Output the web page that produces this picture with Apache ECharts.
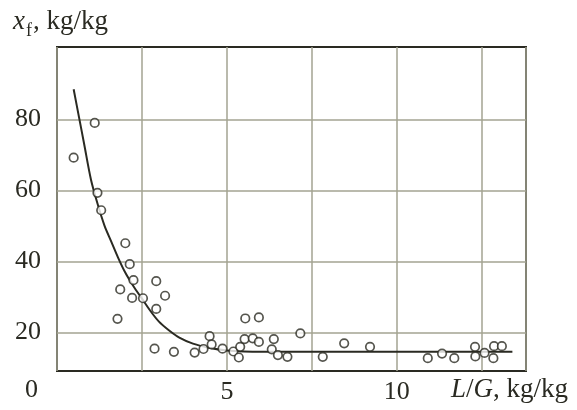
<!DOCTYPE html>
<html>
<head>
<meta charset="utf-8">
<script src="https://cdn.jsdelivr.net/npm/echarts@6/dist/echarts.min.js"></script>
<style>
html,body{margin:0;padding:0;background:#fff;}
#chart{width:577px;height:410px;}
</style>
</head>
<body>
<div id="chart"></div>
<script>
// Data
var pointsLG = [0.49,1.11,1.19,1.30,2.01,2.14,2.25,1.86,2.21,2.53,2.92,3.18,2.92,1.78,2.87,3.44,4.05,4.31,4.49,4.55,4.87,5.19,5.35,5.39,5.52,5.54,5.76,5.94,5.94,6.32,6.38,6.50,6.78,7.16,7.82,8.45,9.21,10.91,11.33,11.69,12.30,12.31,12.58,12.84,12.86,13.09];
var pointsXf = [69.2,79.0,59.3,54.4,45.1,39.2,34.7,32.1,29.7,29.6,34.4,30.3,26.6,23.8,15.4,14.5,14.3,15.3,18.9,16.6,15.4,14.6,12.9,15.9,18.1,23.9,18.3,24.2,17.3,15.2,18.1,13.6,13.1,19.7,13.1,16.9,15.9,12.7,14.0,12.7,15.9,13.2,14.2,12.7,16.1,16.1];
var curveLG = [0.49,0.65,0.8,1.0,1.2,1.4,1.6,1.8,2.0,2.25,2.5,2.75,3.0,3.3,3.6,4.0,4.5,5.0,5.5,6.0,13.4];
var curveXf = [88.5,80.5,73.0,63.0,56.0,50.0,45.5,41.0,37.0,33.0,29.5,26.0,23.0,20.5,18.5,16.8,15.6,14.9,14.6,14.5,14.5];
var yTicks = [20,40,60,80];
var xLabels = [5,10];

var font = '"Liberation Serif", "DejaVu Serif", serif';
var ink = '#2a2a22';
var gridCol = '#a3a392';

var scatterData = pointsLG.map(function(v,i){return [v, pointsXf[i]];});
var curveData = curveLG.map(function(v,i){return [v, curveXf[i]];});

var chart = echarts.init(document.getElementById('chart'), null, {renderer:'canvas'});
chart.setOption({
  backgroundColor:'#fff',
  animation:false,
  grid:{left:57,right:51,top:47,bottom:39,show:true,borderColor:ink,borderWidth:2,backgroundColor:'transparent'},
  xAxis:{
    type:'value',min:0,max:13.8,interval:2.5,
    axisLine:{show:false},
    axisTick:{show:false},
    splitLine:{show:true,lineStyle:{color:gridCol,width:1.5}},
    axisLabel:{
      color:ink,fontFamily:font,fontSize:26,margin:8,
      showMinLabel:false,showMaxLabel:false,
      formatter:function(v){return xLabels.indexOf(v)>=0 ? String(v) : '';}
    }
  },
  yAxis:{
    type:'value',min:9.1,max:100.4,
    axisLine:{show:false},
    axisTick:{show:false,customValues:yTicks},
    splitLine:{show:true,lineStyle:{color:gridCol,width:1.5}},
    axisLabel:{color:ink,fontFamily:font,fontSize:26,margin:16,customValues:yTicks}
  },
  graphic:[
    {type:'text',left:13,top:8,style:{
      rich:{
        i:{fontFamily:font,fontSize:27,fontStyle:'italic',fill:ink},
        s:{fontFamily:font,fontSize:18,fill:ink,padding:[20,1,0,1]},
        n:{fontFamily:font,fontSize:27,fill:ink}
      },
      text:'{i|x}{s|f}{n|, kg/kg}'
    }},
    {type:'text',left:25,top:377,style:{text:'0',fontFamily:font,fontSize:26,fill:ink}},
    {type:'text',right:9,top:376,style:{
      rich:{
        i:{fontFamily:font,fontSize:27,fontStyle:'italic',fill:ink},
        n:{fontFamily:font,fontSize:27,fill:ink}
      },
      text:'{i|L}{n|/}{i|G}{n|, kg/kg}'
    }}
  ],
  series:[
    {type:'line',data:curveData,smooth:0.3,showSymbol:false,
     lineStyle:{color:ink,width:2},z:3},
    {type:'scatter',data:scatterData,symbol:'circle',symbolSize:8.5,
     itemStyle:{color:'#fff',borderColor:ink,borderWidth:1.7},z:4}
  ]
});
</script>
</body>
</html>
